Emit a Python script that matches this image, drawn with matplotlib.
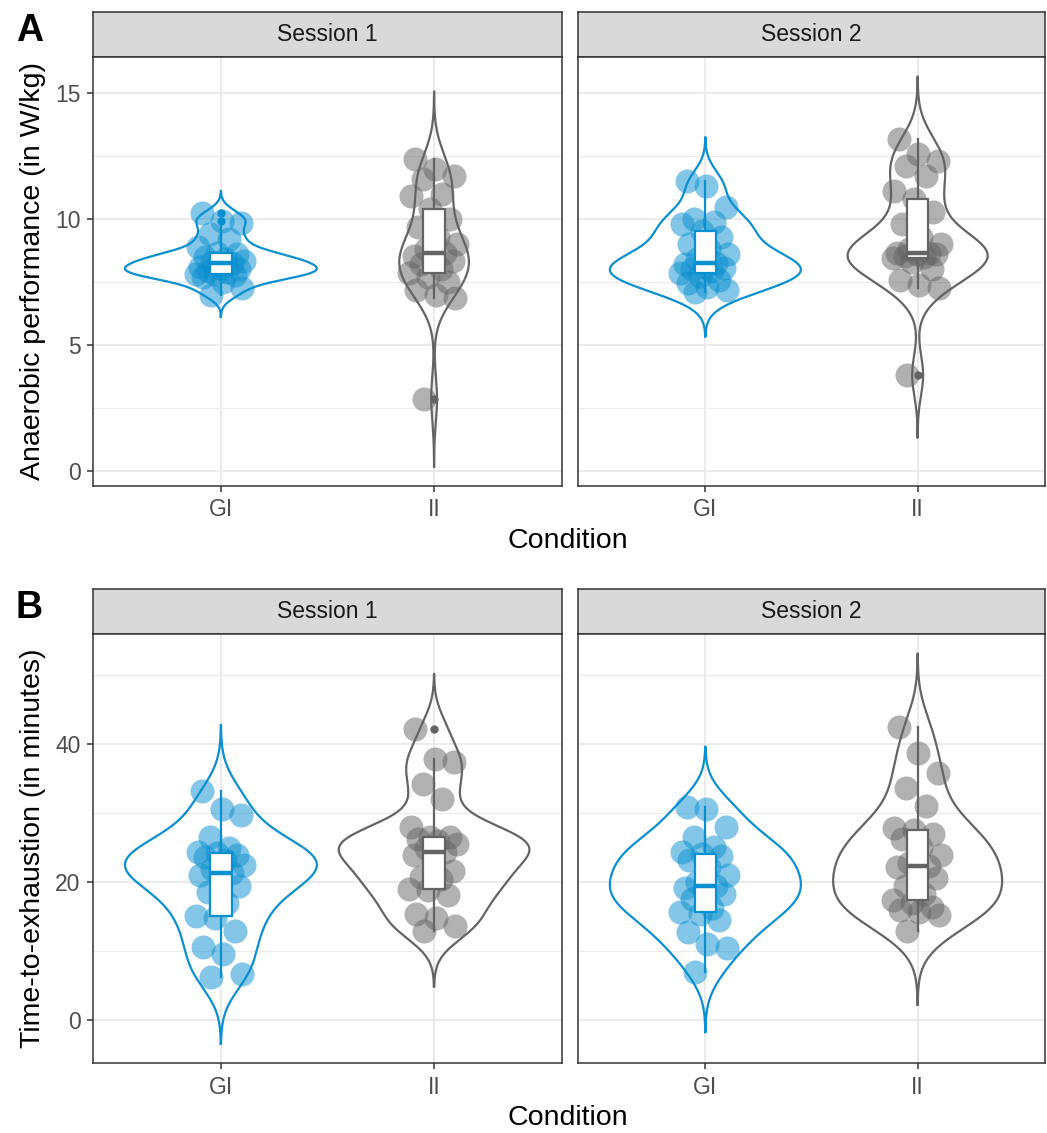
import numpy as np
import matplotlib
matplotlib.use('Agg')
import matplotlib.pyplot as plt
from matplotlib.patches import Rectangle

plt.rcParams['font.family'] = ['Liberation Sans', 'DejaVu Sans']

conditions = ['GI', 'II']
sessions = ['Session 1', 'Session 2']

# A: anaerobic performance (W/kg)
perf_s1_gi = [7.0, 7.25, 7.5, 7.72, 7.78, 7.8, 7.83, 7.9, 7.95, 8.0, 8.05, 8.1, 8.26,
              8.3, 8.35, 8.4, 8.5, 8.6, 8.66, 8.9, 9.2, 9.4, 9.85, 9.92, 10.25]
perf_s1_ii = [2.85, 6.88, 7.0, 7.2, 7.5, 7.7, 7.87, 8.0, 8.2, 8.35, 8.45, 8.55, 8.66,
              8.8, 9.0, 9.3, 9.7, 10.0, 10.4, 10.9, 11.0, 11.6, 11.7, 12.0, 12.4]
perf_s2_gi = [7.1, 7.2, 7.3, 7.45, 7.6, 7.75, 7.86, 7.95, 8.0, 8.05, 8.1, 8.2, 8.27,
              8.4, 8.6, 8.8, 9.0, 9.3, 9.53, 9.8, 9.9, 10.0, 10.5, 11.3, 11.5]
perf_s2_ii = [3.8, 7.27, 7.4, 7.6, 8.0, 8.3, 8.47, 8.5, 8.55, 8.6, 8.62, 8.65, 8.67,
              8.8, 9.0, 9.3, 9.8, 10.3, 10.8, 11.1, 11.7, 12.1, 12.3, 12.6, 13.2]

# B: time-to-exhaustion (minutes)
tte_s1_gi = [6.2, 6.6, 9.5, 10.6, 12.9, 14.8, 15.1, 17.0, 18.5, 19.5, 20.6, 21.0, 21.3,
             21.9, 22.5, 23.2, 23.6, 24.0, 24.2, 24.4, 25.0, 26.5, 29.8, 30.6, 33.2]
tte_s1_ii = [12.9, 13.6, 14.8, 15.4, 18.2, 18.8, 19.0, 20.4, 20.8, 21.6, 23.2, 23.9, 24.3,
             24.9, 25.5, 26.0, 26.3, 26.5, 26.6, 28.0, 32.1, 34.3, 37.4, 37.9, 42.2]
tte_s2_gi = [7.0, 10.4, 11.0, 12.8, 14.5, 15.4, 15.7, 16.2, 17.5, 18.3, 18.8, 19.2, 19.5,
             20.0, 21.0, 22.2, 23.2, 23.8, 24.1, 24.4, 25.1, 26.5, 28.0, 30.6, 30.9]
tte_s2_ii = [12.9, 15.2, 15.6, 16.0, 16.4, 17.0, 17.4, 18.3, 19.5, 20.6, 21.5, 22.2, 22.4,
             22.8, 24.0, 25.1, 26.2, 27.0, 27.5, 27.8, 31.0, 33.6, 35.8, 38.8, 42.5]

rows = [
    ('A', 'Anaerobic performance (in W/kg)', [0, 5, 10, 15],
     [[perf_s1_gi, perf_s1_ii], [perf_s2_gi, perf_s2_ii]]),
    ('B', 'Time-to-exhaustion (in minutes)', [0, 20, 40],
     [[tte_s1_gi, tte_s1_ii], [tte_s2_gi, tte_s2_ii]]),
]

colors = {'GI': '#0A8FD0', 'II': '#646464'}
W, H = 1047, 1133


def nrd0(x):
    sd = np.std(x, ddof=1)
    q75, q25 = np.percentile(x, [75, 25])
    return 0.9 * min(sd, (q75 - q25) / 1.34) * len(x) ** -0.2


def kde(x):
    x = np.asarray(x, float)
    bw = nrd0(x)
    grid = np.linspace(x.min() - 3 * bw, x.max() + 3 * bw, 512)
    d = np.exp(-0.5 * ((grid[:, None] - x[None, :]) / bw) ** 2).sum(1)
    d /= len(x) * bw * np.sqrt(2 * np.pi)
    return grid, d


def px_axes(fig, x0, y0, x1, y1):
    return fig.add_axes([x0 / W, 1 - y1 / H, (x1 - x0) / W, (y1 - y0) / H])


def draw_panel(ax, groups, ylim, ticks):
    dens = [kde(v) for v in groups]
    dmax = max(d.max() for g, d in dens)
    for i, vals in enumerate(groups):
        pos = i + 1
        col = colors[conditions[i]]
        vals = np.asarray(vals, float)
        g, d = dens[i]
        w = 0.45 * d / dmax
        ax.plot(np.r_[pos - w, (pos + w)[::-1], pos - w[0]],
                np.r_[g, g[::-1], g[0]], color=col, lw=1.6, zorder=3)
        # deterministic jitter
        n = len(vals)
        jit = ((np.arange(n) * 0.618034 + 0.3) % 1 - 0.5) * 0.24
        ax.scatter(pos + jit, vals, s=300, color=col, alpha=0.5, lw=0, zorder=4)
        # boxplot
        q1, med, q3 = np.percentile(vals, [25, 50, 75])
        iqr = q3 - q1
        inside = vals[(vals >= q1 - 1.5 * iqr) & (vals <= q3 + 1.5 * iqr)]
        out = vals[(vals < q1 - 1.5 * iqr) | (vals > q3 + 1.5 * iqr)]
        ax.plot([pos, pos], [q3, inside.max()], color=col, lw=1.6, zorder=5)
        ax.plot([pos, pos], [inside.min(), q1], color=col, lw=1.6, zorder=5)
        ax.add_patch(Rectangle((pos - 0.05, q1), 0.1, iqr, facecolor='white',
                               edgecolor=col, lw=1.6, zorder=6))
        ax.plot([pos - 0.05, pos + 0.05], [med, med], color=col, lw=3.2,
                solid_capstyle='butt', zorder=7)
        if len(out):
            ax.scatter(np.full(len(out), pos), out, s=36, color=col, lw=0, zorder=7)

    ax.set_xlim(0.4, 2.6)
    ax.set_ylim(ylim)
    ax.set_xticks([1, 2])
    ax.set_xticklabels(conditions)
    ax.set_yticks(ticks)
    step = ticks[1] - ticks[0]
    minor = np.arange(ticks[0] - step / 2, ylim[1], step)
    ax.set_yticks([m for m in minor if ylim[0] < m < ylim[1]], minor=True)
    ax.grid(True, which='major', color='#EBEBEB', lw=1.5)
    ax.grid(True, which='minor', axis='y', color='#EBEBEB', lw=0.8)
    ax.set_axisbelow(True)
    ax.tick_params(which='minor', left=False)
    ax.tick_params(which='major', length=4, width=1.1, color='#333333',
                   labelsize=16.5, labelcolor='#4D4D4D', pad=5)
    for s in ax.spines.values():
        s.set_color('#333333')
        s.set_linewidth(1.1)


fig = plt.figure(figsize=(W / 100, H / 100), dpi=100)

row_tops = [12, 589]
panel_x = [(93, 562), (578, 1045)]
strip_h = 45
panel_h = 429

for r, (letter, ytitle, ticks, panels) in enumerate(rows):
    top = row_tops[r]
    # shared y range from violin extents, 5% expansion like ggplot
    lo = min(kde(v)[0].min() for p in panels for v in p)
    hi = max(kde(v)[0].max() for p in panels for v in p)
    pad = (hi - lo) * 0.05
    ylim = (lo - pad, hi + pad)
    for c, (x0, x1) in enumerate(panel_x):
        sax = px_axes(fig, x0, top, x1, top + strip_h)
        sax.set_facecolor('#D9D9D9')
        sax.set_xticks([])
        sax.set_yticks([])
        for s in sax.spines.values():
            s.set_color('#333333')
            s.set_linewidth(1.1)
        sax.text(0.5, 0.5, sessions[c], ha='center', va='center',
                 fontsize=16.5, color='#1A1A1A', transform=sax.transAxes)
        ax = px_axes(fig, x0, top + strip_h, x1, top + strip_h + panel_h)
        draw_panel(ax, panels[c], ylim, ticks)
        if c == 1:
            ax.tick_params(left=False, labelleft=False)
    fig.text(568 / W, 1 - (top + strip_h + panel_h + 55) / H, 'Condition',
             ha='center', va='center', fontsize=20.5)
    fig.text(33 / W, 1 - (top + strip_h + panel_h / 2) / H, ytitle,
             ha='center', va='center', rotation=90, fontsize=20.5)
    fig.text(16 / W, 1 - (top + 1) / H, letter, ha='left', va='top',
             fontsize=27, fontweight='bold')

fig.savefig('out.png', dpi=100)
